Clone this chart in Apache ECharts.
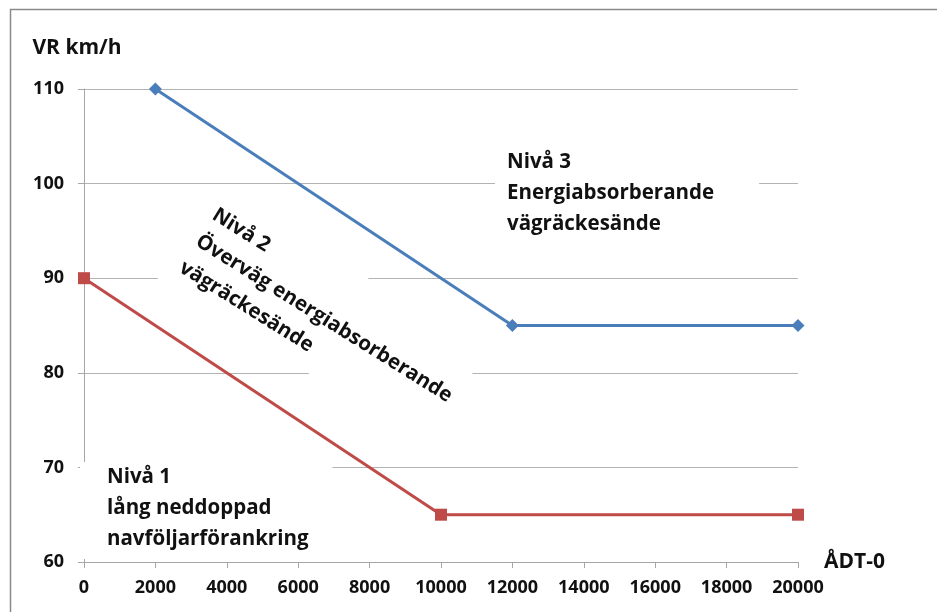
<!DOCTYPE html>
<html>
<head>
<meta charset="utf-8">
<script src="https://cdn.jsdelivr.net/npm/echarts@6/dist/echarts.min.js"></script>
<style>
html,body{margin:0;padding:0;background:#fff;}
#c{width:937px;height:612px;}
</style>
</head>
<body>
<div id="c"></div>
<script>
// ---- data ----
const xTicks = [0, 2000, 4000, 6000, 8000, 10000, 12000, 14000, 16000, 18000, 20000];
const yTicks = [60, 70, 80, 90, 100, 110];
const nivå3X = [2000, 12000, 20000];
const nivå3Y = [110, 85, 85];
const nivå1X = [0, 10000, 20000];
const nivå1Y = [90, 65, 65];
const labelNivå1 = ['Nivå 1', 'lång neddoppad', 'navföljarförankring'];
const labelNivå2 = ['Nivå 2', 'Överväg energiabsorberande', 'vägräckesände'];
const labelNivå3 = ['Nivå 3', 'Energiabsorberande', 'vägräckesände'];
const yName = 'VR km/h';
const xName = 'ÅDT-0';

const FONT = '"Open Sans", Lato, sans-serif';
const ang = -32 * Math.PI / 180;

const chart = echarts.init(document.getElementById('c'), null, {renderer: 'canvas'});
const textBox = (lines, x, y, padding, rot) => ({
  type: 'text', x: x, y: y, rotation: rot || 0, z: 5,
  style: {
    text: lines.join('\n'),
    font: 'bold 20.5px ' + FONT,
    fill: '#111',
    lineHeight: 31,
    align: 'left', verticalAlign: 'top',
    backgroundColor: '#fff',
    padding: padding
  }
});

chart.setOption({
  animation: false,
  backgroundColor: '#fff',
  grid: {left: 84, right: 139, top: 89, bottom: 50},
  xAxis: {
    type: 'value', min: xTicks[0], max: xTicks[xTicks.length - 1], interval: 2000,
    name: xName, nameLocation: 'end', nameGap: 26,
    nameTextStyle: {fontFamily: FONT, fontWeight: 'bold', fontSize: 21, color: '#111', verticalAlign: 'middle', align: 'left', padding: [8, 0, 0, 0]},
    axisLine: {show: true, lineStyle: {color: '#a6a6a6', width: 1}},
    axisTick: {show: true, length: 6, lineStyle: {color: '#a6a6a6'}},
    axisLabel: {margin: 17, fontFamily: FONT, fontWeight: 'bold', fontSize: 18, color: '#111',
      formatter: v => String(v)},
    splitLine: {show: false}
  },
  yAxis: {
    type: 'value', min: yTicks[0], max: yTicks[yTicks.length - 1], interval: 10,
    name: yName, nameLocation: 'end', nameGap: 30,
    nameTextStyle: {fontFamily: FONT, fontWeight: 'bold', fontSize: 21, color: '#111', padding: [0, 14, 0, 0]},
    axisLine: {show: true, lineStyle: {color: '#a6a6a6', width: 1}},
    axisTick: {show: true, length: 6, lineStyle: {color: '#a6a6a6'}},
    axisLabel: {margin: 20, fontFamily: FONT, fontWeight: 'bold', fontSize: 18, color: '#111'},
    splitLine: {show: true, lineStyle: {color: '#b3b3b3', width: 1}}
  },
  series: [
    {
      name: 'Nivå 3', type: 'line', z: 10,
      data: nivå3X.map((x, i) => [x, nivå3Y[i]]),
      symbol: 'diamond', symbolSize: 13, clip: false,
      lineStyle: {color: '#4a7ebb', width: 3},
      itemStyle: {color: '#4a7ebb'}
    },
    {
      name: 'Nivå 1', type: 'line', z: 10,
      data: nivå1X.map((x, i) => [x, nivå1Y[i]]),
      symbol: 'rect', symbolSize: 12, clip: false,
      lineStyle: {color: '#be4b48', width: 3},
      itemStyle: {color: '#be4b48'}
    }
  ],
  graphic: [
    {type: 'rect', z: 0, shape: {x: 10.5, y: 9.5, width: 1000, height: 800},
     style: {fill: 'none', stroke: '#8a8a8a', lineWidth: 1.5}},
    textBox(labelNivå3, 495, 143, [4, 45, 8, 12]),
    textBox(labelNivå1, 80, 462, [0, 24, 4, 27]),
    textBox(labelNivå2, 217, 184, [11, 6, 8, 13], ang)
  ]
});
</script>
</body>
</html>
